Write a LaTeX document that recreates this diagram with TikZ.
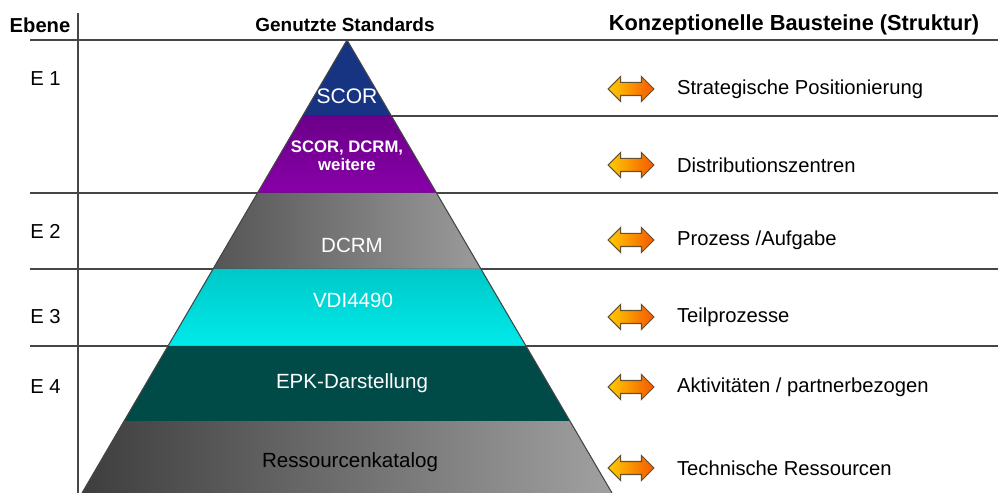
\documentclass[tikz,border=0pt]{standalone}
\usepackage{fontspec}
\setmainfont{Liberation Sans}
\usepackage{xcolor}
\usetikzlibrary{shapes.arrows, positioning}

\definecolor{liniengrau}{RGB}{70,70,70}
\definecolor{scorblau}{RGB}{22,52,130}
\definecolor{lilaoben}{RGB}{108,0,138}
\definecolor{lilaunten}{RGB}{136,0,168}
\definecolor{graudunkel}{RGB}{85,85,85}
\definecolor{grauhell}{RGB}{155,155,155}
\definecolor{cyanoben}{RGB}{0,200,200}
\definecolor{cyanunten}{RGB}{0,234,234}
\definecolor{petrol}{RGB}{0,74,72}
\definecolor{sockeldunkel}{RGB}{62,62,62}
\definecolor{sockelhell}{RGB}{160,160,160}
\definecolor{pfeilgelb}{RGB}{255,204,0}
\definecolor{pfeilrot}{RGB}{245,88,0}
\definecolor{pfeilrand}{RGB}{100,80,50}

\begin{document}
\begin{tikzpicture}[x=0.02cm, y=-0.02cm,
    linie/.style={draw=liniengrau, line width=0.75pt},
    kopf/.style={font=\fontsize{11.5}{13}\selectfont\bfseries, inner sep=0},
    ebene/.style={font=\fontsize{11.5}{13}\selectfont, anchor=west, inner sep=0},
    standard/.style={font=\fontsize{11.7}{13}\selectfont, text=white, inner sep=0},
    baustein/.style={font=\fontsize{11.5}{13}\selectfont, inner sep=0},
    pfeil/.style={double arrow, draw=pfeilrand, line width=0.6pt,
        left color=pfeilgelb, right color=pfeilrot, shading angle=90,
        minimum height=0.92cm, minimum width=0.48cm, inner sep=0.12cm,
        double arrow head extend=0.12cm}]
    \useasboundingbox (0,0) rectangle (998,493);

    % Raster
    \draw[linie] (78,13) -- (78,493);
    \draw[linie]
        (30,40) -- (998,40)
        (30,193) -- (998,193)
        (30,269) -- (998,269)
        (30,346) -- (998,346)
        (391.5,116) -- (998,116);

    % Pyramide
    \fill[scorblau] (347,40) -- (391.5,116) -- (302.5,116) -- cycle;
    \fill[top color=lilaoben, bottom color=lilaunten] (302.5,116) -- (391.5,116) -- (436.5,193) -- (257.5,193) -- cycle;
    \fill[left color=graudunkel, right color=grauhell] (257.5,193) -- (436.5,193) -- (481,269) -- (213,269) -- cycle;
    \fill[top color=cyanoben, bottom color=cyanunten] (213,269) -- (481,269) -- (526,346) -- (168,346) -- cycle;
    \fill[petrol] (168,346) -- (526,346) -- (570,421) -- (124,421) -- cycle;
    \fill[left color=sockeldunkel, right color=sockelhell] (124,421) -- (570,421) -- (612,493) -- (82,493) -- cycle;
    \draw[liniengrau, line width=0.6pt] (82,493) -- (347,40) -- (612,493);

    % Kopfzeile
    \node[kopf] (kebene) at (40,25) {Ebene};
    \node[kopf, font=\fontsize{10.8}{13}\selectfont\bfseries] (kstandards) at (345,25) {Genutzte Standards};
    \node[kopf, font=\fontsize{12.4}{14}\selectfont\bfseries] (kbausteine) at (794,25) {Konzeptionelle Bausteine (Struktur)};

    % Ebenen
    \node[ebene] (e1) at (30,79) {E 1};
    \node[ebene] (e2) at (30,231) {E 2};
    \node[ebene] (e3) at (30,317) {E 3};
    \node[ebene] (e4) at (30,387) {E 4};

    % Standards
    \node[standard, font=\fontsize{12}{14}\selectfont] (scor) at (347,96) {SCOR};
    \node[standard, font=\fontsize{9.5}{10.5}\selectfont\bfseries, align=center] (weitere) at (347,156) {SCOR, DCRM,\\weitere};
    \node[standard] (dcrm) at (352,245) {DCRM};
    \node[standard] (vdi) at (353,300) {VDI4490};
    \node[standard] (epk) at (352,383) {EPK-Darstellung};
    \node[standard, text=black] (katalog) at (350,462) {Ressourcenkatalog};

    % Bausteine
    \node[pfeil] (p1) at (631,89) {};
    \node[pfeil] (p2) at (631,165) {};
    \node[pfeil] (p3) at (631,240) {};
    \node[pfeil] (p4) at (631,317) {};
    \node[pfeil] (p5) at (631,387) {};
    \node[pfeil] (p6) at (631,468) {};
    \node[baustein, right=0.44cm of p1] (b1) {Strategische Positionierung};
    \node[baustein, right=0.44cm of p2] (b2) {Distributionszentren};
    \node[baustein, right=0.44cm of p3] (b3) {Prozess /Aufgabe};
    \node[baustein, right=0.44cm of p4] (b4) {Teilprozesse};
    \node[baustein, right=0.44cm of p5] (b5) {Aktivitäten / partnerbezogen};
    \node[baustein, right=0.44cm of p6] (b6) {Technische Ressourcen};
\end{tikzpicture}
\end{document}
